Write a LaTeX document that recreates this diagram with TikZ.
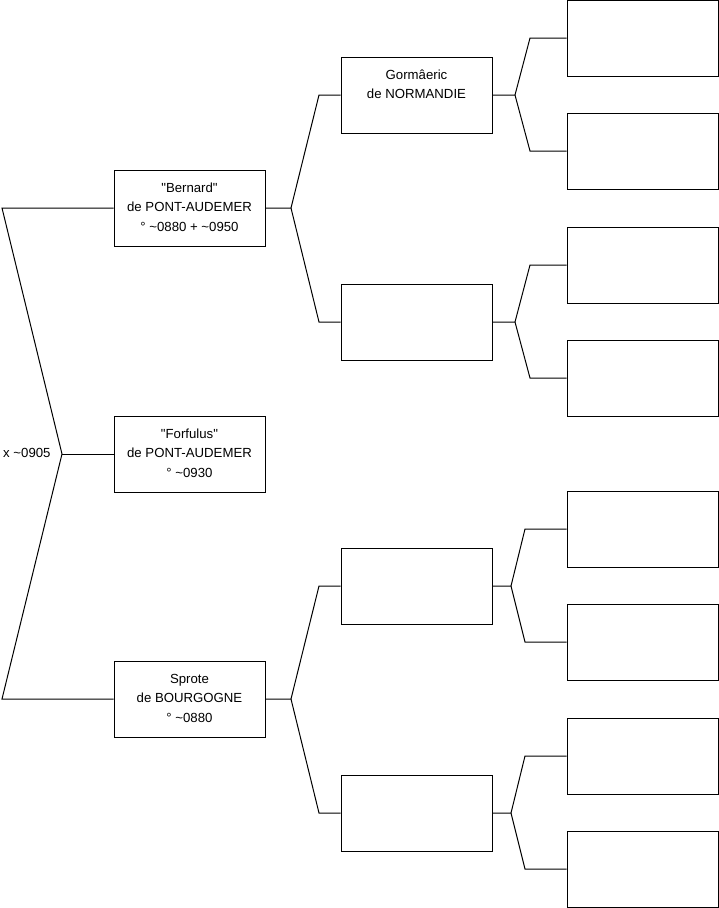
\documentclass[tikz,border=0pt]{standalone}
\usepackage{fontspec}
\setmainfont{Liberation Sans}
\begin{document}
\begin{tikzpicture}[x=1pt,y=-1pt,
  person/.style={draw=black,line width=1pt,minimum width=151pt,minimum height=76pt,inner sep=0pt,align=center,
     font=\fontsize{13.2pt}{19.5pt}\selectfont},
  link/.style={line width=1pt,black}]
\useasboundingbox (0,0) rectangle (719,908);
% generation 1
\node[person] (p1) at (189.5,208) {\strut\textquotedbl Bernard\textquotedbl\\de PONT-AUDEMER\\° \textasciitilde0880 + \textasciitilde0950\strut};
\node[person] (p2) at (189.5,454) {\strut\textquotedbl Forfulus\textquotedbl\\de PONT-AUDEMER\\° \textasciitilde0930\strut};
\node[person] (p3) at (189.5,699) {\strut Sprote\\de BOURGOGNE\\° \textasciitilde0880\strut};
% generation 2
\node[person] (g1) at (416.5,95) {\strut Gormâeric\\de NORMANDIE\\\strut};
\node[person] (g2) at (416.5,322) {};
\node[person] (g3) at (416.5,586) {};
\node[person] (g4) at (416.5,813) {};
% generation 3
\node[person] (h1) at (642.5,38) {};
\node[person] (h2) at (642.5,151) {};
\node[person] (h3) at (642.5,265) {};
\node[person] (h4) at (642.5,378) {};
\node[person] (h5) at (642.5,529) {};
\node[person] (h6) at (642.5,642) {};
\node[person] (h7) at (642.5,756) {};
\node[person] (h8) at (642.5,869) {};
% left connector
\coordinate (L1) at (2,208);
\coordinate (J0) at (62,454);
\coordinate (L3) at (2,699);
\draw[link] (p1.west) -- (L1) -- (J0) -- (L3) -- (p3.west);
\draw[link] (J0) -- (p2.west);
\node[anchor=west,inner sep=0pt,font=\fontsize{13.2pt}{15pt}\selectfont] (mar) at (3,453) {x \textasciitilde0905};
% p1 -> g1,g2
\coordinate (J1) at (291,208);
\coordinate (J1a) at (319,95);
\coordinate (J1b) at (319,322);
\draw[link] (p1.east) -- (J1) -- (J1a) -- (g1.west);
\draw[link] (J1) -- (J1b) -- (g2.west);
% p3 -> g3,g4
\coordinate (J3) at (291,699);
\coordinate (J3a) at (319,586);
\coordinate (J3b) at (319,813);
\draw[link] (p3.east) -- (J3) -- (J3a) -- (g3.west);
\draw[link] (J3) -- (J3b) -- (g4.west);
% g1 -> h1,h2
\coordinate (K1) at (515,95);
\coordinate (K1a) at (530,38);
\coordinate (K1b) at (530,151);
\draw[link] (g1.east) -- (K1) -- (K1a) -- (h1.west);
\draw[link] (K1) -- (K1b) -- (h2.west);
% g2 -> h3,h4
\coordinate (K2) at (515,322);
\coordinate (K2a) at (530,265);
\coordinate (K2b) at (530,378);
\draw[link] (g2.east) -- (K2) -- (K2a) -- (h3.west);
\draw[link] (K2) -- (K2b) -- (h4.west);
% g3 -> h5,h6
\coordinate (K3) at (511,586);
\coordinate (K3a) at (525,529);
\coordinate (K3b) at (525,642);
\draw[link] (g3.east) -- (K3) -- (K3a) -- (h5.west);
\draw[link] (K3) -- (K3b) -- (h6.west);
% g4 -> h7,h8
\coordinate (K4) at (511,813);
\coordinate (K4a) at (525,756);
\coordinate (K4b) at (525,869);
\draw[link] (g4.east) -- (K4) -- (K4a) -- (h7.west);
\draw[link] (K4) -- (K4b) -- (h8.west);
\end{tikzpicture}
\end{document}
